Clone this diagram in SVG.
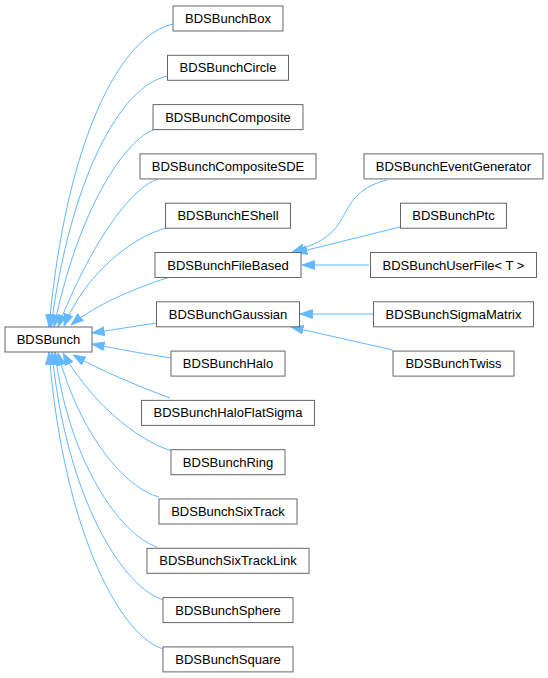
<svg xmlns="http://www.w3.org/2000/svg" width="548" height="678" viewBox="0 0 548 678">
<style>
.n rect{fill:#fff;stroke:#666;stroke-width:1}
.n text{font-family:"Liberation Sans",Arial,sans-serif;font-size:13px;fill:#000;text-anchor:middle}
.e path{fill:none;stroke:#63b8ff;stroke-width:1;marker-end:url(#ah)}
</style>
<defs>
<marker id="ah" viewBox="0 0 13 10" refX="12.5" refY="5" markerWidth="13" markerHeight="10" markerUnits="userSpaceOnUse" orient="auto">
<path d="M0,0.5 L12.5,5 L0,9.5 z" fill="#63b8ff" stroke="#63b8ff" stroke-width="0.8"/>
</marker>
</defs>
<g id="edges" class="e">
<path d="M173,24 C120,36 66,140 49,327"/>
<path d="M168,76 C120,85 70,180 51,327"/>
<path d="M156,129 C125,138 78,210 54,327"/>
<path d="M158,179 C130,188 90,245 58,327"/>
<path d="M166,228 C130,238 85,275 64,326"/>
<path d="M170,277 C135,288 95,305 71,325"/>
<path d="M157,323 C135,326 113,330 92,333"/>
<path d="M171,358 C145,354 118,349 92,344"/>
<path d="M170,398 C135,385 100,370 73,355"/>
<path d="M172,451 C135,440 90,400 63,353"/>
<path d="M159,497 C125,488 80,435 58,353"/>
<path d="M157,547 C120,535 68,460 55,352"/>
<path d="M164,600 C125,590 66,500 52,352"/>
<path d="M164,649 C125,640 64,540 49,352"/>
<path d="M387,180 C355,188 350,205 340,222 C330,238 315,245 292,252"/>
<path d="M400,227 L295,253"/>
<path d="M369,265 L302,265"/>
<path d="M373,314 L300,314"/>
<path d="M393,350 L291,327"/>
</g>
<g id="BDSBunch" class="n"><rect x="5" y="327" width="87" height="25"/><text x="48.5" y="344">BDSBunch</text></g>
<g id="BDSBunchBox" class="n"><rect x="173" y="6" width="110" height="25"/><text x="228" y="23">BDSBunchBox</text></g>
<g id="BDSBunchCircle" class="n"><rect x="167.5" y="55.3" width="121" height="25"/><text x="228" y="72.3">BDSBunchCircle</text></g>
<g id="BDSBunchComposite" class="n"><rect x="153" y="104.6" width="150" height="25"/><text x="228" y="121.6">BDSBunchComposite</text></g>
<g id="BDSBunchCompositeSDE" class="n"><rect x="140" y="153.9" width="176" height="25"/><text x="228" y="170.9">BDSBunchCompositeSDE</text></g>
<g id="BDSBunchEShell" class="n"><rect x="165.5" y="203.2" width="125" height="25"/><text x="228" y="220.2">BDSBunchEShell</text></g>
<g id="BDSBunchFileBased" class="n"><rect x="155" y="252.5" width="146" height="25"/><text x="228" y="269.5">BDSBunchFileBased</text></g>
<g id="BDSBunchGaussian" class="n"><rect x="156.5" y="301.8" width="143" height="25"/><text x="228" y="318.8">BDSBunchGaussian</text></g>
<g id="BDSBunchHalo" class="n"><rect x="171" y="351.1" width="114" height="25"/><text x="228" y="368.1">BDSBunchHalo</text></g>
<g id="BDSBunchHaloFlatSigma" class="n"><rect x="141.5" y="400.4" width="173" height="25"/><text x="228" y="417.4">BDSBunchHaloFlatSigma</text></g>
<g id="BDSBunchRing" class="n"><rect x="171" y="449.7" width="114" height="25"/><text x="228" y="466.7">BDSBunchRing</text></g>
<g id="BDSBunchSixTrack" class="n"><rect x="159" y="499" width="138" height="25"/><text x="228" y="516">BDSBunchSixTrack</text></g>
<g id="BDSBunchSixTrackLink" class="n"><rect x="147" y="548.3" width="162" height="25"/><text x="228" y="565.3">BDSBunchSixTrackLink</text></g>
<g id="BDSBunchSphere" class="n"><rect x="163" y="597.6" width="130" height="25"/><text x="228" y="614.6">BDSBunchSphere</text></g>
<g id="BDSBunchSquare" class="n"><rect x="163" y="646.9" width="130" height="25"/><text x="228" y="663.9">BDSBunchSquare</text></g>
<g id="BDSBunchEventGenerator" class="n"><rect x="364" y="153.9" width="179" height="25"/><text x="453.5" y="170.9">BDSBunchEventGenerator</text></g>
<g id="BDSBunchPtc" class="n"><rect x="400.5" y="203.2" width="106" height="25"/><text x="453.5" y="220.2">BDSBunchPtc</text></g>
<g id="BDSBunchUserFile" class="n"><rect x="370.5" y="252.5" width="166" height="25"/><text x="453.5" y="269.5">BDSBunchUserFile&lt; T &gt;</text></g>
<g id="BDSBunchSigmaMatrix" class="n"><rect x="373.5" y="301.8" width="160" height="25"/><text x="453.5" y="318.8">BDSBunchSigmaMatrix</text></g>
<g id="BDSBunchTwiss" class="n"><rect x="393" y="351.1" width="121" height="25"/><text x="453.5" y="368.1">BDSBunchTwiss</text></g>
</svg>
